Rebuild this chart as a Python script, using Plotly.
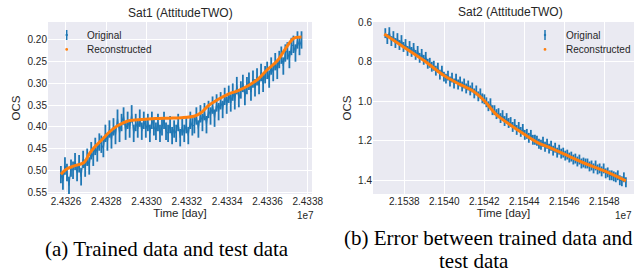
import numpy as np
import plotly.graph_objects as go

# ---------------- data ----------------
# Sat1 time grid (units of 1e7 days) and observed OCS
sat1_t_start, sat1_t_end = 2.432575, 2.433769
sat1_orig = [
    0.51, 0.525, 0.49, 0.505, 0.535, 0.495, 0.50, 0.48,
    0.505, 0.485, 0.515, 0.475, 0.495,
    0.47, 0.49, 0.455, 0.47, 0.445, 0.46, 0.435, 0.44, 0.45, 0.415, 0.435, 0.405, 0.43,
    0.40, 0.42, 0.38, 0.415, 0.39, 0.375, 0.41, 0.385, 0.405, 0.37,
    0.415, 0.39, 0.405, 0.38, 0.41, 0.385, 0.405, 0.39, 0.415, 0.385,
    0.40, 0.41, 0.39, 0.415, 0.40, 0.385, 0.41, 0.415, 0.395, 0.42,
    0.405, 0.415, 0.39, 0.425, 0.40, 0.415, 0.395, 0.42, 0.385, 0.40,
    0.395, 0.375, 0.405, 0.37, 0.39, 0.365, 0.395, 0.36, 0.375, 0.35,
    0.38, 0.345, 0.365, 0.34, 0.36, 0.33, 0.35,
    0.325, 0.345, 0.32, 0.34, 0.305, 0.335, 0.315, 0.30, 0.33, 0.305,
    0.295, 0.32, 0.29, 0.31, 0.285, 0.305, 0.275, 0.30, 0.28,
    0.27, 0.29, 0.26, 0.275, 0.25, 0.27, 0.245, 0.235, 0.26, 0.23,
    0.225, 0.245, 0.215, 0.21, 0.23, 0.20, 0.215, 0.20,
]
sat1_err = 0.02
sat1_rec_t = [2.432575, 2.4326, 2.432641, 2.43269, 2.432715, 2.432739, 2.43278,
              2.432813, 2.432854, 2.432911, 2.432977, 2.433043, 2.433108, 2.433174,
              2.433239, 2.433272, 2.433305, 2.433354, 2.433403, 2.433452, 2.433502,
              2.433551, 2.4336, 2.433649, 2.433698, 2.433731, 2.433769]
sat1_rec = [0.509, 0.498, 0.490, 0.482, 0.463, 0.448, 0.429, 0.413, 0.398, 0.386,
            0.383, 0.381, 0.380, 0.379, 0.375, 0.367, 0.352, 0.337, 0.325, 0.317,
            0.306, 0.291, 0.268, 0.248, 0.214, 0.196, 0.193]

# Sat2
sat2_t_start, sat2_t_end = 2.153705, 2.154908
sat2_orig = [
    0.655, 0.685, 0.65, 0.695, 0.67, 0.705, 0.68, 0.715, 0.69, 0.725,
    0.71, 0.745, 0.72, 0.75, 0.73, 0.765, 0.745, 0.78, 0.76, 0.79,
    0.775, 0.81, 0.805, 0.825, 0.82, 0.845, 0.83, 0.865, 0.845, 0.875,
    0.885, 0.87, 0.90, 0.88, 0.91, 0.885, 0.915, 0.90, 0.925, 0.91,
    0.935, 0.92, 0.945, 0.93, 0.96, 0.945, 0.975, 0.96, 0.985, 0.99,
    1.005, 1.025, 1.01, 1.045, 1.045, 1.065, 1.06, 1.085, 1.07, 1.10,
    1.085, 1.11, 1.105, 1.13, 1.115, 1.145, 1.13, 1.155, 1.14, 1.17,
    1.165, 1.185, 1.17, 1.195, 1.195, 1.20, 1.215, 1.22, 1.205, 1.23,
    1.215, 1.24, 1.225, 1.25, 1.235, 1.26, 1.245, 1.265, 1.26, 1.275,
    1.27, 1.285, 1.28, 1.295, 1.29, 1.305, 1.295, 1.315, 1.31, 1.315,
    1.315, 1.33, 1.325, 1.34, 1.325, 1.345, 1.34, 1.355, 1.34, 1.365,
    1.36, 1.375, 1.375, 1.38, 1.385, 1.375, 1.40, 1.405, 1.385, 1.41,
]
sat2_err = 0.025
sat2_rec_t = [2.1537, 2.1538, 2.1539, 2.1540, 2.154075, 2.154142, 2.1542, 2.154258,
              2.154325, 2.1544, 2.154467, 2.154525, 2.1546, 2.154692, 2.1548, 2.154908]
sat2_rec = [0.659, 0.727, 0.795, 0.871, 0.913, 0.947, 0.997, 1.065, 1.116, 1.167,
            1.209, 1.234, 1.268, 1.310, 1.353, 1.403]

sat1_xticks = [2.4326, 2.4328, 2.4330, 2.4332, 2.4334, 2.4336, 2.4338]
sat1_yticks = [0.20, 0.25, 0.30, 0.35, 0.40, 0.45, 0.50, 0.55]
sat2_xticks = [2.1538, 2.1540, 2.1542, 2.1544, 2.1546, 2.1548]
sat2_yticks = [0.6, 0.8, 1.0, 1.2, 1.4]
legend_names = ["Original", "Reconstructed"]

# ---------------- figure ----------------
W, H = 636, 276
BLUE = "#1f77b4"
ORANGE = "#ff7f0e"
TXT = "#262626"
SANS = "Liberation Sans, Arial, sans-serif"
SERIF = "Liberation Serif, Times New Roman, serif"

sat1_t = np.linspace(sat1_t_start, sat1_t_end, len(sat1_orig))
sat2_t = np.linspace(sat2_t_start, sat2_t_end, len(sat2_orig))

fig = go.Figure()


def add_panel(t, y, err, rt, ry, xa, ya):
    fig.add_trace(go.Scatter(x=t, y=y, mode="lines", xaxis=xa, yaxis=ya,
                             name=legend_names[0],
                             line=dict(color=BLUE, width=1),
                             error_y=dict(type="constant", value=err, color=BLUE,
                                          thickness=1.8, width=0),
                             showlegend=False, hoverinfo="skip"))
    fig.add_trace(go.Scatter(x=rt, y=ry, mode="lines", xaxis=xa, yaxis=ya,
                             name=legend_names[1],
                             line=dict(color=ORANGE, width=3, shape="spline"),
                             showlegend=False, hoverinfo="skip"))


add_panel(sat1_t, sat1_orig, sat1_err, sat1_rec_t, sat1_rec, "x", "y")
add_panel(sat2_t, sat2_orig, sat2_err, sat2_rec_t, sat2_rec, "x2", "y2")


def px(v):
    return v / W


def py(v):
    return 1 - v / H


ydom = [py(194), py(22)]

axis_common = dict(showgrid=True, gridcolor="white", gridwidth=1, zeroline=False,
                   showline=False, ticks="", automargin=False,
                   tickfont=dict(family=SANS, size=10, color=TXT))
title_font = dict(family=SANS, size=11.5, color=TXT)

annotations = [
    dict(text="Sat1 (AttitudeTWO)", x=px(180), y=py(13), size=12),
    dict(text="Sat2 (AttitudeTWO)", x=px(510), y=py(12), size=12),
    dict(text="1e7", x=px(305), y=py(215), size=10),
    dict(text="1e7", x=px(623), y=py(215), size=10),
]
ann = []
for a in annotations:
    ann.append(dict(text=a["text"], x=a["x"], y=a["y"], xref="paper", yref="paper",
                    xanchor="center", yanchor="middle", showarrow=False,
                    font=dict(family=SANS, size=a["size"], color=TXT)))

captions = [
    ("(a) Trained data and test data", 167, 249),
    ("(b) Error between trained data and", 488, 238),
    ("test data", 474, 261),
]
for text, cx, cy in captions:
    ann.append(dict(text=text, x=px(cx), y=py(cy), xref="paper", yref="paper",
                    xanchor="center", yanchor="middle", showarrow=False,
                    font=dict(family=SERIF, size=21, color="black")))

# legends drawn as icon shapes + text labels
shapes = []
for icon_x, text_x in [(66.7, 85), (545, 563.5)]:
    shapes.append(dict(type="line", xref="paper", yref="paper",
                       x0=px(icon_x), x1=px(icon_x), y0=py(30), y1=py(40),
                       line=dict(color=BLUE, width=1.5)))
    shapes.append(dict(type="circle", xref="paper", yref="paper",
                       x0=px(icon_x - 1.2), x1=px(icon_x + 1.2),
                       y0=py(36.2), y1=py(33.8),
                       fillcolor=BLUE, line=dict(width=0)))
    shapes.append(dict(type="circle", xref="paper", yref="paper",
                       x0=px(icon_x - 1.4), x1=px(icon_x + 1.4),
                       y0=py(50.8), y1=py(48),
                       fillcolor=ORANGE, line=dict(width=0)))
    for name, ty in zip(legend_names, [35, 49.5]):
        ann.append(dict(text=name, x=px(text_x), y=py(ty), xref="paper", yref="paper",
                        xanchor="left", yanchor="middle", showarrow=False,
                        font=dict(family=SANS, size=10, color=TXT)))

fig.update_layout(
    width=W, height=H,
    margin=dict(l=0, r=0, t=0, b=0, pad=0),
    paper_bgcolor="white", plot_bgcolor="#EAEAF2",
    showlegend=False,
    xaxis=dict(domain=[px(48), px(312)], range=[2.432511, 2.433821],
               tickvals=sat1_xticks, tickformat=".4f",
               title=dict(text="Time [day]", font=title_font, standoff=1),
               anchor="y", **axis_common),
    yaxis=dict(domain=ydom, range=[0.5546, 0.1586], tickvals=sat1_yticks, tickformat=".2f",
               title=dict(text="OCS", font=title_font, standoff=4),
               anchor="x", **axis_common),
    xaxis2=dict(domain=[px(373), px(634)], range=[2.1536435, 2.1549485],
                tickvals=sat2_xticks, tickformat=".4f",
                title=dict(text="Time [day]", font=title_font, standoff=1),
                anchor="y2", **axis_common),
    yaxis2=dict(domain=ydom, range=[1.4695, 0.5985], tickvals=sat2_yticks, tickformat=".1f",
                title=dict(text="OCS", font=title_font, standoff=4),
                anchor="x2", **axis_common),
    annotations=ann,
    shapes=shapes,
)

fig.write_html("out.html",
               config={"displayModeBar": False},
               post_script="document.body.style.margin='0px';"
                           "document.documentElement.style.overflow='hidden';")
